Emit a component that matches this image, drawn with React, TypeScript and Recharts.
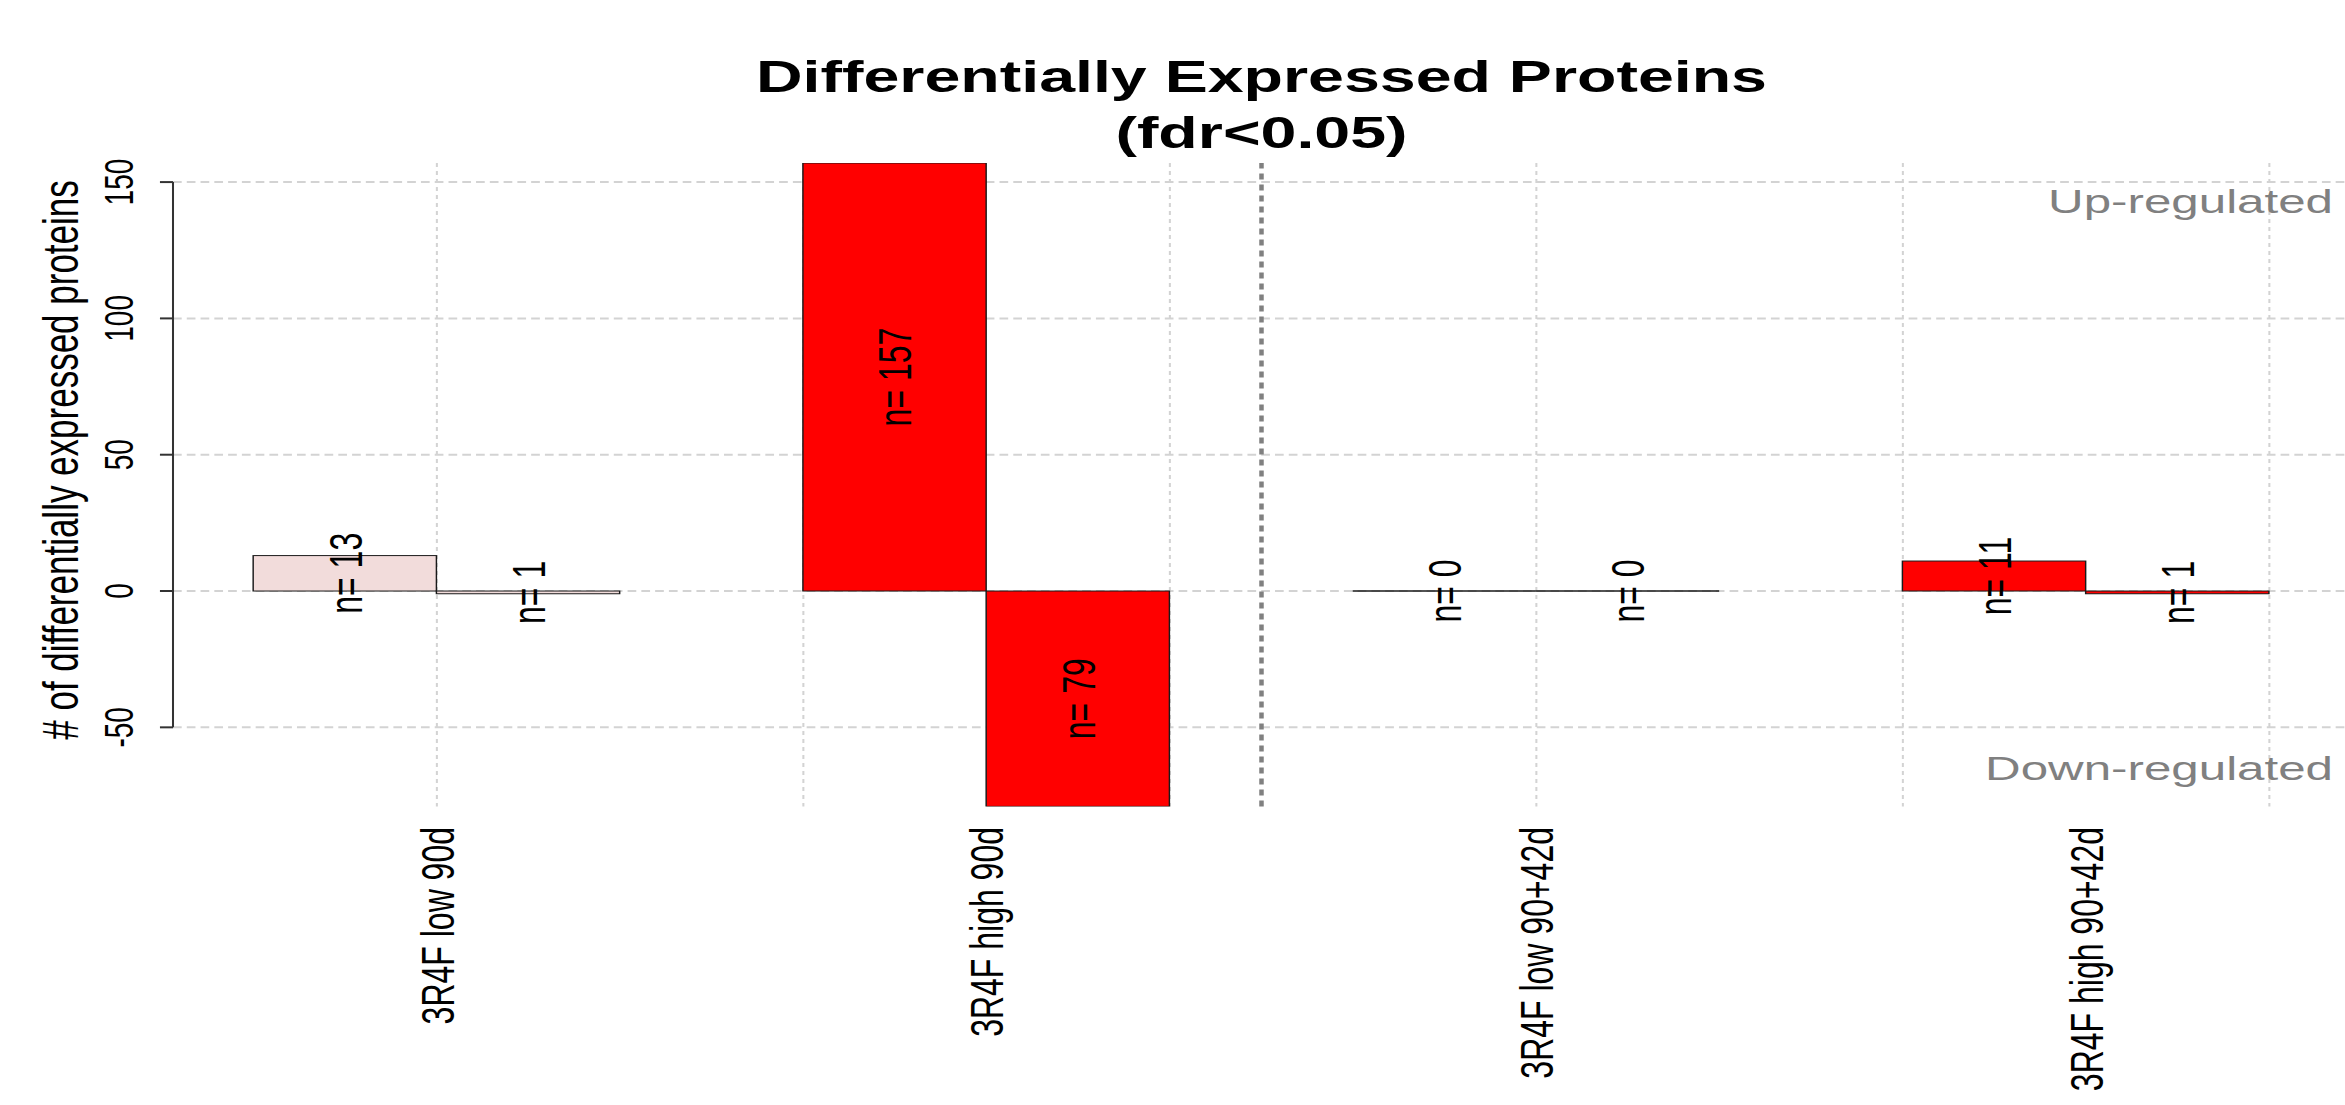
import { BarChart, Bar, XAxis, YAxis, CartesianGrid, ReferenceLine } from "recharts"

const groups = ["3R4F low 90d", "3R4F high 90d", "3R4F low 90+42d", "3R4F high 90+42d"]
const upRegulated = [13, 157, 0, 11]
const downRegulated = [1, 79, 0, 1]
const yTicks = [-50, 0, 50, 100, 150]

// styles
const groupFill = ["#F2DCDB", "#FF0000", "#FF0000", "#FF0000"]
const FONT = "'Liberation Sans', Arial, Helvetica, sans-serif"

// the original picture is stretched sideways, so draw narrow and scale x
const S = 1.45
const W = 2350 / S
const H = 1105
const AXIS_W = 173 / S
const PLOT_TOP = 163
const PLOT_BOTTOM = 806.4
const X_DOMAIN = [0.56, 12.44]
const unit = (W - AXIS_W) / (X_DOMAIN[1] - X_DOMAIN[0])

// barplot slots: up bar, down bar, then a gap
const rows = groups.flatMap((g, i) => [
  { x: 3 * i + 1.5, value: upRegulated[i], group: i },
  { x: 3 * i + 2.5, value: -downRegulated[i], group: i },
])
const groupTicks = groups.map((g, i) => 3 * i + 2)
const gridX = [2, 4, 6, 8, 10, 12]

function BarShape(props: any) {
  const { x, y, width, height, payload } = props
  // bars fill their whole slot, like R's barplot with space 0
  const cx = x + width / 2
  const left = cx - unit / 2
  const top = Math.min(y, y + height)
  const h = Math.abs(height)
  const cy = top + h / 2
  return (
    <g>
      {h > 0.5 ? (
        <rect x={left} y={top} width={unit} height={h} fill={groupFill[payload.group]} stroke="#1a1a1a" strokeWidth={1} />
      ) : (
        <line x1={left} x2={left + unit} y1={top} y2={top} stroke="#1a1a1a" strokeWidth={1.5} />
      )}
      <text
        transform={`translate(${cx},${cy}) rotate(-90)`}
        textAnchor="middle"
        dy="0.36em"
        fontSize={32}
        fontFamily={FONT}
        fill="#000"
      >
        {`n= ${Math.abs(payload.value)}`}
      </text>
    </g>
  )
}

function YTick(props: any) {
  const { x, y, payload } = props
  return (
    <text transform={`translate(${x},${y}) rotate(-90)`} textAnchor="middle" fontSize={28} fontFamily={FONT} fill="#000">
      {payload.value}
    </text>
  )
}

function XTick(props: any) {
  const { x, y, payload } = props
  const label = groups[Math.round((payload.value - 2) / 3)]
  return (
    <text transform={`translate(${x},${y}) rotate(-90)`} textAnchor="end" dy="0.36em" fontSize={32} fontFamily={FONT} fill="#000">
      {label}
    </text>
  )
}

export default function App() {
  return (
    <div style={{ position: "absolute", left: 0, top: 0, width: 2345, height: 1105, overflow: "hidden", background: "#fff" }}>
      <div style={{ position: "relative", width: W, height: H, transform: `scaleX(${S})`, transformOrigin: "0 0" }}>
        <BarChart
          width={W}
          height={H}
          data={rows}
          margin={{ top: PLOT_TOP, right: 0, bottom: 0, left: 0 }}
          barCategoryGap={0}
          barGap={0}
        >
          <CartesianGrid vertical={false} horizontalValues={yTicks} stroke="#D3D3D3" strokeDasharray="6 3.5" strokeWidth={2} />
          <CartesianGrid horizontal={false} verticalValues={gridX} stroke="#D3D3D3" strokeDasharray="4 4" strokeWidth={1.4} />
          <XAxis
            type="number"
            dataKey="x"
            domain={X_DOMAIN}
            ticks={groupTicks}
            interval={0}
            allowDataOverflow
            axisLine={false}
            tickLine={false}
            tickSize={0}
            tickMargin={20.6}
            height={H - PLOT_BOTTOM}
            tick={<XTick />}
          />
          <YAxis
            domain={[-79, 157]}
            ticks={yTicks}
            interval={0}
            allowDataOverflow
            width={AXIS_W}
            axisLine={false}
            tickSize={9}
            tickMargin={18.6}
            tickLine={{ stroke: "#333", strokeWidth: 2 }}
            tick={<YTick />}
          />
          <ReferenceLine
            segment={[{ x: X_DOMAIN[0], y: -50 }, { x: X_DOMAIN[0], y: 150 }]}
            stroke="#333"
            strokeWidth={1.4}
            ifOverflow="visible"
          />
          <ReferenceLine x={6.5} stroke="#808080" strokeWidth={3.1} strokeDasharray="6 5" />
          <Bar dataKey="value" barSize={unit} shape={BarShape} isAnimationActive={false} />
        </BarChart>
        <svg width={W} height={H} style={{ position: "absolute", left: 0, top: 0, pointerEvents: "none" }}>
          <g fontFamily={FONT}>
            <text x={(AXIS_W + W) / 2} y={92} textAnchor="middle" fontSize={44.5} fontWeight="bold" fill="#000">
              Differentially Expressed Proteins
            </text>
            <text x={(AXIS_W + W) / 2} y={148} textAnchor="middle" fontSize={44.5} fontWeight="bold" fill="#000">
              (fdr&lt;0.05)
            </text>
            <text x={2333 / S} y={213} textAnchor="end" fontSize={34} fill="#808080">
              Up-regulated
            </text>
            <text x={2333 / S} y={780} textAnchor="end" fontSize={34} fill="#808080">
              Down-regulated
            </text>
            <text transform={`translate(${78 / S},460) rotate(-90)`} textAnchor="middle" fontSize={35} fill="#000">
              # of differentially expressed proteins
            </text>
          </g>
        </svg>
      </div>
    </div>
  )
}
